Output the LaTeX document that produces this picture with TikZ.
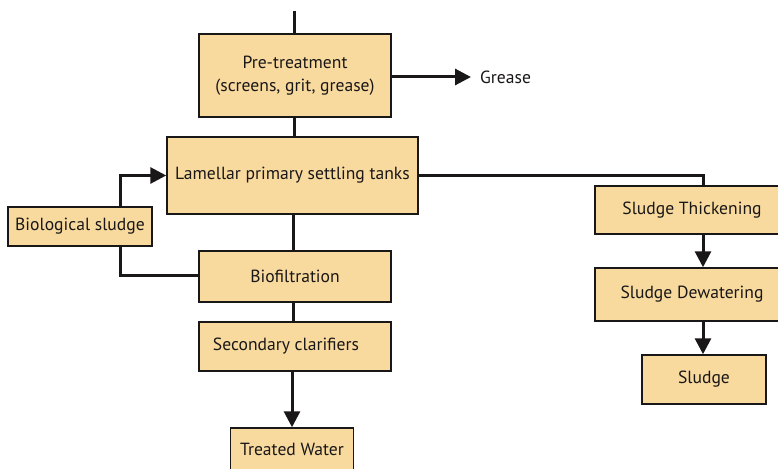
\documentclass[tikz,border=0pt]{standalone}
\usepackage{fontspec}
\setmainfont{PT Sans}
\usetikzlibrary{arrows.meta,calc}
\definecolor{boxfill}{HTML}{F8DA9E}
\definecolor{ink}{HTML}{1A1718}
\begin{document}
\begin{tikzpicture}[x=1pt,y=-1pt,
  box/.style={draw=ink,line width=1.5pt,fill=boxfill,rectangle,inner sep=0pt,align=center,font=\fontsize{17.6}{23}\selectfont,text=ink},
  conn/.style={draw=ink,line width=3pt},
  arr/.style={conn,-{Triangle[length=16pt,width=16pt]}}]
\useasboundingbox (0,0) rectangle (778,468);
\clip (0,0) rectangle (778,468);
\fill[white] (0,0) rectangle (778,468);
\coordinate (top) at (294,11);
\node[box,minimum width=192pt,minimum height=83pt] (pre) at (295,75.5) {\raisebox{4pt}{\begin{tabular}{@{}c@{}}Pre-treatment\\(screens, grit, grease)\end{tabular}}};
\node[box,minimum width=251pt,minimum height=77pt] (lam) at (292.5,175.5) {\raisebox{3pt}{Lamellar primary settling tanks}};
\node[box,minimum width=144pt,minimum height=39pt] (bio) at (80,226.5) {Biological sludge};
\node[box,minimum width=192pt,minimum height=51pt] (biof) at (295,276.5) {Biofiltration};
\node[box,minimum width=192pt,minimum height=49pt] (sec) at (295,346.5) {\hspace*{-18pt}Secondary clarifiers};
\node[box,minimum width=123pt,minimum height=42pt] (tw) at (292,449) {Treated Water};
\node[box,minimum width=194pt,minimum height=48pt] (thick) at (692,210) {Sludge Thickening};
\node[box,minimum width=194pt,minimum height=53pt] (dew) at (692,294.5) {Sludge Dewatering};
\node[box,minimum width=124pt,minimum height=49pt] (sludge) at (704,379.5) {Sludge};
\node[anchor=west,inner sep=0pt,font=\fontsize{17.6}{20}\selectfont,text=ink] (grease) at (480,77) {Grease};
\draw[conn] (top) -- (pre.north -| top);
\draw[conn] (pre.south -| top) -- (lam.north -| top);
\draw[arr] (pre.east |- grease) -- ([xshift=-9pt]grease.west);
\draw[conn] (lam.east) -| ([xshift=11pt]thick.north);
\draw[arr] ([xshift=11pt]thick.south) -- ([xshift=11pt]dew.north);
\draw[arr] ([xshift=11pt]dew.south) -- ([xshift=11pt]dew.south |- sludge.north);
\draw[conn] (lam.south -| 293,0) -- (biof.north -| 293,0);
\draw[conn] (biof.south -| 293,0) -- (sec.north -| 293,0);
\draw[arr] (sec.south -| tw.north) -- (tw.north);
\draw[arr] ([xshift=40pt]bio.north) |- (lam.west);
\draw[conn] ([xshift=40pt]bio.south) |- ([yshift=1.5pt]biof.west);
\end{tikzpicture}
\end{document}
